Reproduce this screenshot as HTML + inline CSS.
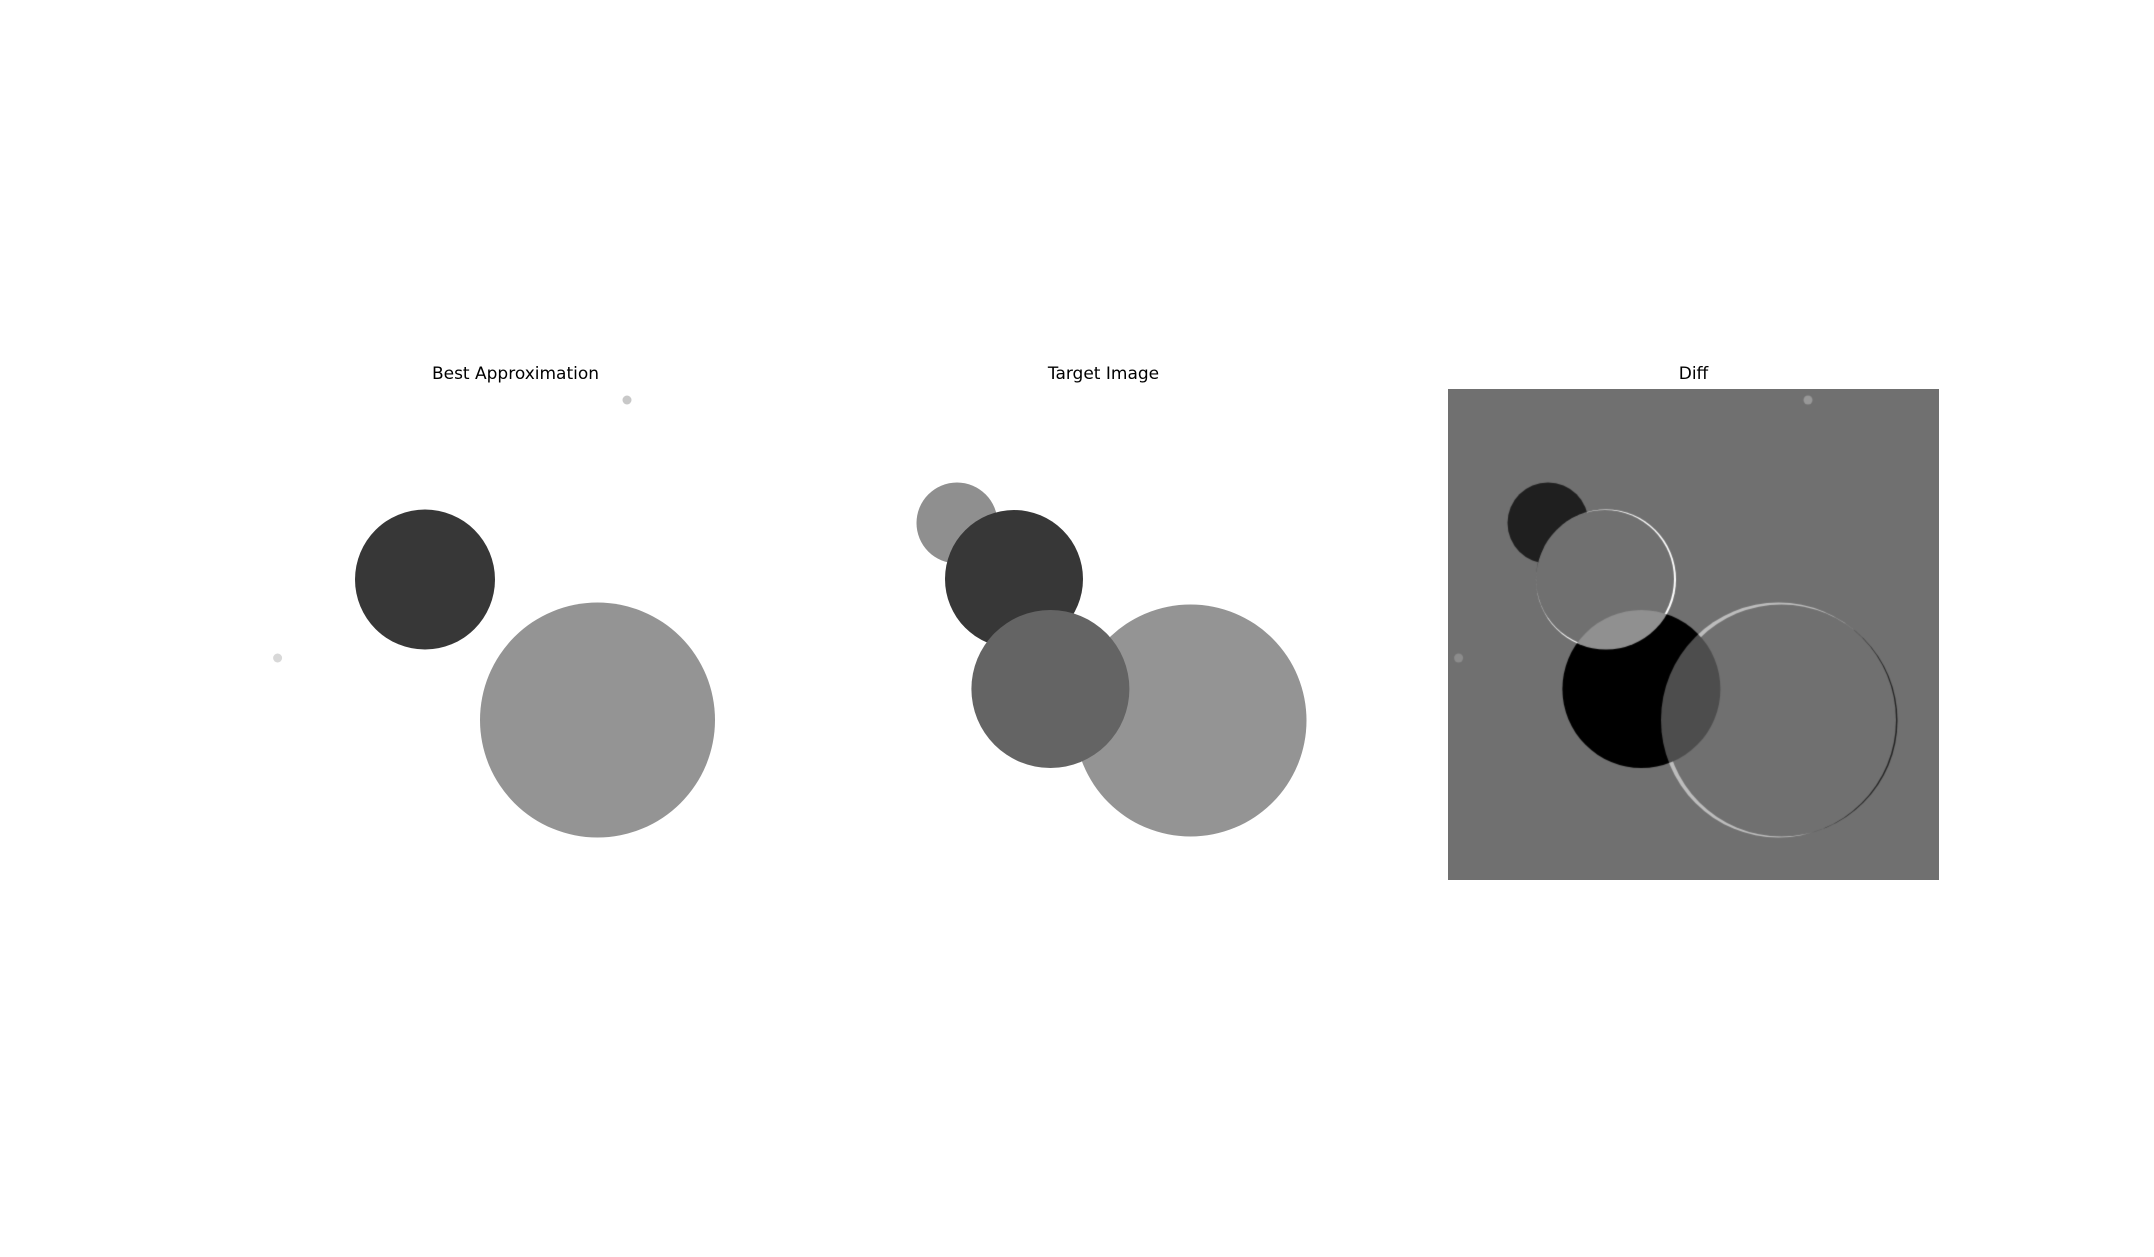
<!DOCTYPE html>
<html><head><meta charset="utf-8"><style>
html,body{margin:0;padding:0;background:#fff;}
body{width:2154px;height:1257px;position:relative;overflow:hidden;font-family:"DejaVu Sans","Liberation Sans",sans-serif;}
.title{position:absolute;width:491px;text-align:center;font-size:17px;color:#000;top:364px;}
.panel{position:absolute;top:389px;width:491px;height:491px;}
</style></head><body>
<div class="title" style="left:270px">Best Approximation</div>
<div class="title" style="left:858px">Target Image</div>
<div class="title" style="left:1448px">Diff</div>
<svg class="panel" id="approx" style="left:271px" viewBox="0 0 491 491"></svg>
<svg class="panel" id="target" style="left:861px" viewBox="0 0 491 491"></svg>
<canvas class="panel" id="diff" width="491" height="491" style="left:1448px"></canvas>
<script>
const approxCx=[154,326.5,356,6.6];
const approxCy=[190.5,331,11,269];
const approxR=[70,117.5,4.5,4.5];
const approxGray=[55,148,200,216];
const targetCx=[96,153,329.5,189.4];
const targetCy=[134,190,331.5,300];
const targetR=[40.5,69,116,79];
const targetGray=[143,55,148,100];
const diffMid=112, diffGain=0.72;
const NS='http://www.w3.org/2000/svg';
function drawSvg(id,cx,cy,r,g,prefix){
  const svg=document.getElementById(id);
  for(let i=0;i<cx.length;i++){
    const c=document.createElementNS(NS,'circle');
    c.setAttribute('cx',cx[i]);c.setAttribute('cy',cy[i]);c.setAttribute('r',r[i]);
    c.setAttribute('fill','rgb('+g[i]+','+g[i]+','+g[i]+')');
    
    
    svg.appendChild(c);
  }
}
drawSvg('approx',approxCx,approxCy,approxR,approxGray,'approx');
drawSvg('target',targetCx,targetCy,targetR,targetGray,'target');
const diffShiftX=4;
function raster(cx,cy,r,g){
  const cv=document.createElement('canvas');cv.width=491;cv.height=491;
  const ctx=cv.getContext('2d');ctx.fillStyle='#fff';ctx.fillRect(0,0,491,491);
  for(let i=0;i<cx.length;i++){ctx.fillStyle='rgb('+g[i]+','+g[i]+','+g[i]+')';
    ctx.beginPath();ctx.arc(cx[i]+diffShiftX,cy[i],r[i],0,Math.PI*2);ctx.fill();}
  return ctx.getImageData(0,0,491,491).data;
}
const A=raster(approxCx,approxCy,approxR,approxGray);
const T=raster(targetCx,targetCy,targetR,targetGray);
const dctx=document.getElementById('diff').getContext('2d');
const out=dctx.createImageData(491,491);
for(let p=0;p<A.length;p+=4){
  let v=diffMid+diffGain*(T[p]-A[p]);v=Math.max(0,Math.min(255,v));
  out.data[p]=out.data[p+1]=out.data[p+2]=v;out.data[p+3]=255;
}
dctx.putImageData(out,0,0);
</script>
</body></html>
